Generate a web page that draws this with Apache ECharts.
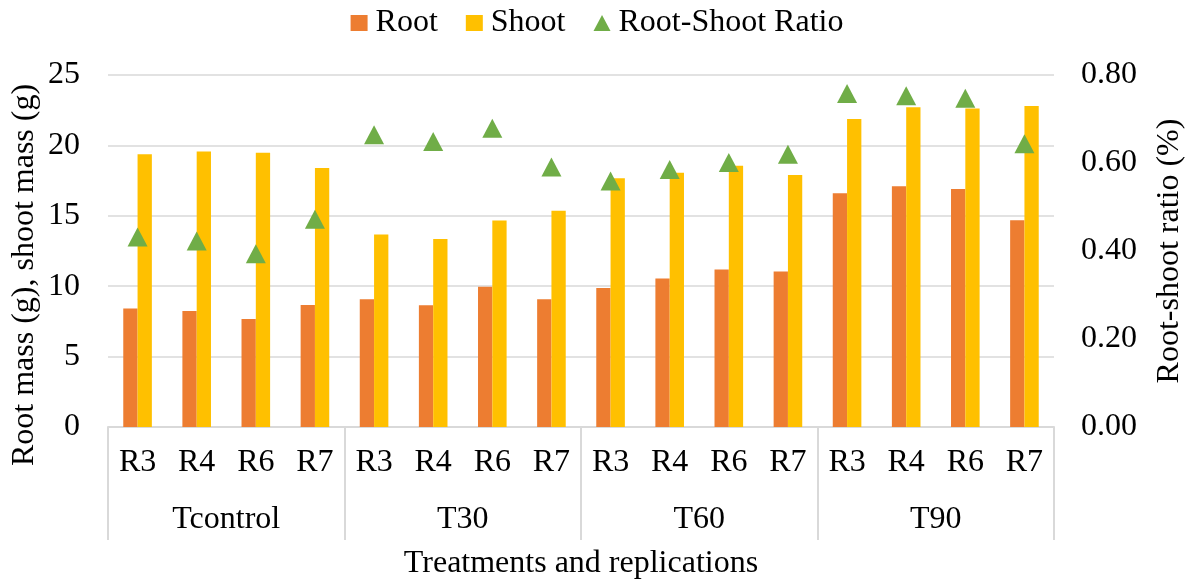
<!DOCTYPE html>
<html>
<head>
<meta charset="utf-8">
<script src="https://cdn.jsdelivr.net/npm/echarts@6/dist/echarts.min.js"></script>
<style>html,body{margin:0;padding:0;background:#fff;}#c{width:1194px;height:585px;}</style>
</head>
<body>
<div id="c"></div>
<script>
const treatments = ['Tcontrol', 'T30', 'T60', 'T90'];
const replications = ['R3', 'R4', 'R6', 'R7'];
const rootMass = [8.41, 8.24, 7.67, 8.66, 9.08, 8.64, 9.96, 9.07, 9.87, 10.55, 11.19, 11.05, 16.6, 17.09, 16.9, 14.68];
const shootMass = [19.38, 19.57, 19.48, 18.39, 13.67, 13.36, 14.66, 15.35, 17.67, 18.06, 18.56, 17.9, 21.88, 22.71, 22.62, 22.8];
const ratio = [0.432, 0.423, 0.394, 0.472, 0.664, 0.649, 0.679, 0.591, 0.559, 0.585, 0.601, 0.620, 0.758, 0.753, 0.747, 0.644];
const leftTicks = [0, 25, 5];
const rightTicks = [0, 0.8, 0.2];

const categories = [];
treatments.forEach(t => replications.forEach(r => categories.push(t + '|' + r)));

const FONT = "'Liberation Serif', 'Times New Roman', serif";
const FS = 32;
const GRID = '#d9d9d9';

const chart = echarts.init(document.getElementById('c'));
chart.setOption({
  animation: false,
  backgroundColor: '#fff',
  textStyle: { fontFamily: FONT, color: '#000' },
  legend: {
    top: 2, left: 'center',
    itemWidth: 17, itemHeight: 16, itemGap: 28,
    textStyle: { fontFamily: FONT, fontSize: FS, color: '#000', padding: [0, 0, 0, 3] },
    data: [
      { name: 'Root', icon: 'rect' },
      { name: 'Shoot', icon: 'rect' },
      { name: 'Root-Shoot Ratio', icon: 'triangle', itemStyle: { opacity: 1 } }
    ]
  },
  grid: { left: 108, right: 133, top: 75, bottom: 156, containLabel: false },
  xAxis: [
    {
      type: 'category', data: categories, boundaryGap: true, position: 'bottom',
      axisLine: { show: true, lineStyle: { color: GRID, width: 2 } },
      axisTick: { show: false },
      axisLabel: { margin: 20, fontFamily: FONT, fontSize: FS, color: '#000', interval: 0,
        formatter: v => v.split('|')[1] }
    },
    {
      type: 'category', data: treatments, boundaryGap: true, position: 'bottom',
      axisLine: { show: false },
      axisTick: { show: true, length: 113, lineStyle: { color: GRID, width: 2 } },
      axisLabel: { margin: 77, fontFamily: FONT, fontSize: FS, color: '#000', interval: 0 },
      name: 'Treatments and replications', nameLocation: 'middle', nameGap: 121,
      nameTextStyle: { fontFamily: FONT, fontSize: FS, color: '#000' }
    }
  ],
  yAxis: [
    {
      type: 'value', min: leftTicks[0], max: leftTicks[1], interval: leftTicks[2],
      axisLine: { show: false }, axisTick: { show: false },
      splitLine: { show: true, lineStyle: { color: GRID, width: 1.5 } },
      axisLabel: { margin: 28, fontFamily: FONT, fontSize: FS, color: '#000' }
    },
    {
      type: 'value', min: rightTicks[0], max: rightTicks[1], interval: rightTicks[2], position: 'right',
      axisLine: { show: false }, axisTick: { show: false }, splitLine: { show: false },
      axisLabel: { margin: 27, fontFamily: FONT, fontSize: FS, color: '#000', formatter: v => v.toFixed(2) },
      name: 'Root-shoot ratio (%)', nameLocation: 'middle', nameRotate: 90, nameGap: 100,
      nameTextStyle: { fontFamily: FONT, fontSize: FS, color: '#000' }
    }
  ],
  graphic: [
    {
      type: 'text', x: 25, y: 275, rotation: Math.PI / 2,
      style: { text: 'Root mass (g), shoot mass (g)', font: FS + 'px ' + FONT, fill: '#000',
        textAlign: 'center', textVerticalAlign: 'middle' }
    }
  ],
  series: [
    { name: 'Root', type: 'bar', xAxisIndex: 0, yAxisIndex: 0, data: rootMass,
      barWidth: 14.3, barGap: '0%', itemStyle: { color: '#ed7d31' } },
    { name: 'Shoot', type: 'bar', xAxisIndex: 0, yAxisIndex: 0, data: shootMass,
      barWidth: 14.3, barGap: '0%', itemStyle: { color: '#ffc000' } },
    { name: 'Root-Shoot Ratio', type: 'scatter', xAxisIndex: 0, yAxisIndex: 1, data: ratio,
      symbol: 'triangle', symbolSize: [20, 19], itemStyle: { color: '#70ad47', opacity: 1 }, z: 5 }
  ]
});
</script>
</body>
</html>
